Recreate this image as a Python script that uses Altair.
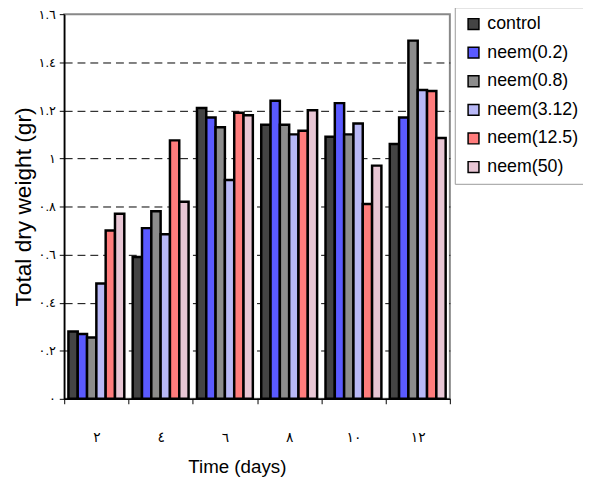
import altair as alt
import pandas as pd

days = ["٢", "٤", "٦", "٨", "١٠", "١٢"]
series = ["control", "neem(0.2)", "neem(0.8)", "neem(3.12)", "neem(12.5)", "neem(50)"]
colors = ["#444444", "#5a5aff", "#8c8c8c", "#b8b8f6", "#ff7c7c", "#e8c6d4"]

control = [0.28, 0.59, 1.21, 1.14, 1.09, 1.06]
neem_02 = [0.27, 0.71, 1.17, 1.24, 1.23, 1.17]
neem_08 = [0.255, 0.78, 1.13, 1.14, 1.10, 1.49]
neem_312 = [0.48, 0.685, 0.91, 1.10, 1.145, 1.285]
neem_125 = [0.70, 1.075, 1.19, 1.115, 0.81, 1.28]
neem_50 = [0.77, 0.82, 1.18, 1.20, 0.97, 1.085]

y_tick_labels = ["٠", "٠.٢", "٠.٤", "٠.٦", "٠.٨", "١", "١.٢", "١.٤", "١.٦"]

all_vals = [control, neem_02, neem_08, neem_312, neem_125, neem_50]
rows = []
for s, vals in zip(series, all_vals):
    for d, v in zip(days, vals):
        rows.append({"day": d, "series": s, "value": v})
df = pd.DataFrame(rows)

FONT = "Liberation Sans, Arial, DejaVu Sans"
label_expr = "[" + ",".join("'" + t + "'" for t in y_tick_labels) + "][round(datum.value*5)]"

bars = alt.Chart(df).mark_bar(stroke="black", strokeWidth=2.5).encode(
    x=alt.X("day:N", sort=days,
            scale=alt.Scale(paddingInner=0, paddingOuter=0),
            axis=alt.Axis(title="Time (days)", labelAngle=0, tickBand="extent",
                          tickSize=5, labelPadding=27, titlePadding=14, titleX=175,
                          labelFontSize=14, titleFontSize=19, labelFont=FONT, titleFont=FONT,
                          titleFontWeight="normal", domainColor="black", tickColor="black",
                          labelColor="black", titleColor="black", domainWidth=1.5)),
    xOffset=alt.XOffset("series:N", sort=series,
                        scale=alt.Scale(paddingInner=0, paddingOuter=0.45)),
    y=alt.Y("value:Q",
            scale=alt.Scale(domain=[0, 1.6], nice=False),
            axis=alt.Axis(title="Total dry weight (gr)", values=[0, 0.2, 0.4, 0.6, 0.8, 1.0, 1.2, 1.4, 1.6],
                          labelExpr=label_expr, tickSize=5, labelPadding=4, titlePadding=3,
                          grid=True, gridDash=[8, 5], gridColor="black", gridWidth=1,
                          gridOpacity={"condition": {"test": "datum.value > 1.55", "value": 0}, "value": 1},
                          labelFontSize=13, titleFontSize=23, labelFont=FONT, titleFont=FONT,
                          titleFontWeight="normal", domainColor="black", tickColor="black",
                          labelColor="black", titleColor="black", domainWidth=1.5)),
    color=alt.Color("series:N", sort=series,
                    scale=alt.Scale(domain=series, range=colors),
                    legend=alt.Legend(title=None, orient="none", legendX=396, legendY=-7,
                                      fillColor="white", strokeColor="#999999",
                                      padding=8, rowPadding=11, symbolType="square",
                                      symbolSize=121, symbolStrokeColor="black",
                                      symbolStrokeWidth=1.5, symbolOpacity=1,
                                      labelFontSize=18, labelFont=FONT, labelColor="black",
                                      labelOffset=5, symbolOffset=2)),
)

shadow = alt.Chart(pd.DataFrame({"k": [0]})).mark_rect(color="black").encode(
    x=alt.value(401), x2=alt.value(526), y=alt.value(-2), y2=alt.value(170)
)

chart = alt.layer(shadow, bars).properties(
    width=391, height=390,
    autosize=alt.AutoSizeParams(type="none"),
    padding={"left": 57, "top": 3, "right": 135, "bottom": 76},
).configure_view(stroke="#888888", strokeWidth=2)

chart.save("out.html", embed_options={"renderer": "svg", "actions": False})
